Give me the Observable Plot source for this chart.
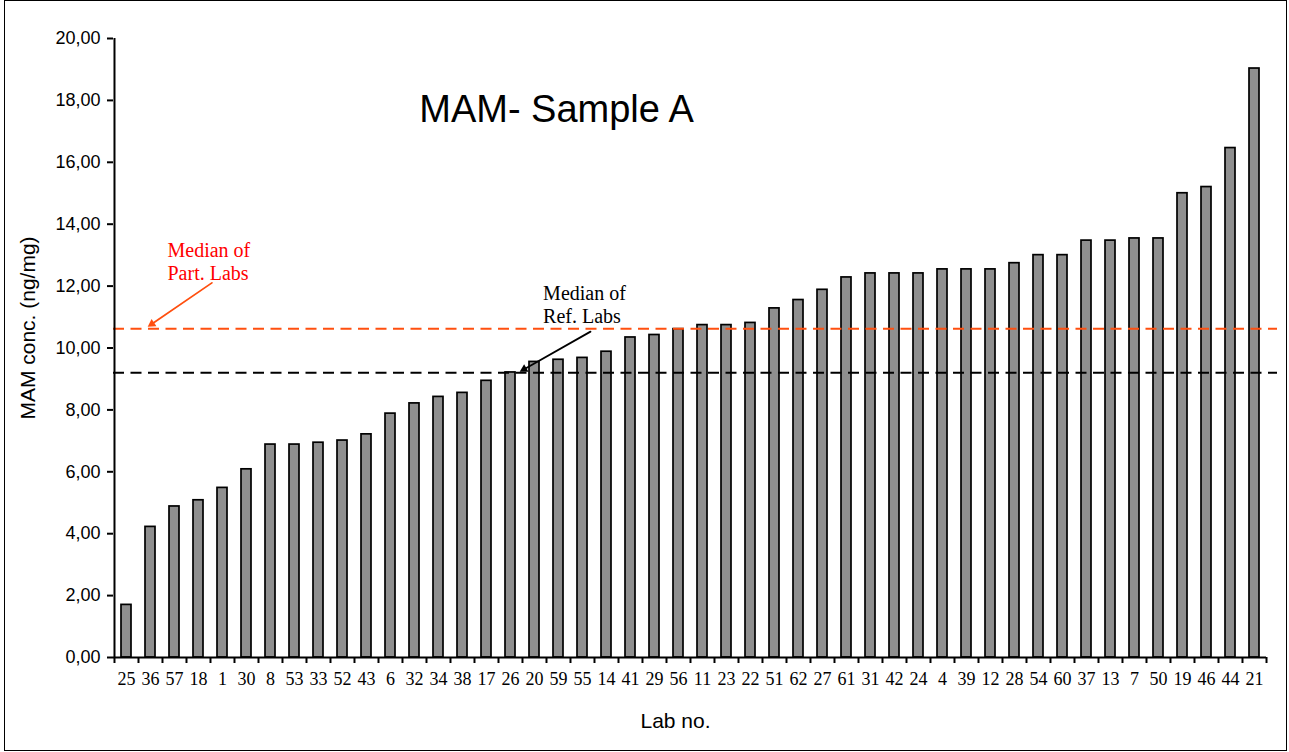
<!DOCTYPE html>
<html>
<head>
<meta charset="utf-8">
<script src="https://cdn.jsdelivr.net/npm/d3@7"></script>
<script src="https://cdn.jsdelivr.net/npm/@observablehq/plot@0.6"></script>
<style>
html, body { margin: 0; padding: 0; background: #fff; }
#wrap { position: relative; width: 1289px; height: 752px; overflow: hidden; }
#border { position: absolute; left: 4px; top: 0; width: 1283px; height: 751px; border: 1.5px solid #000; box-sizing: border-box; pointer-events: none; }
</style>
</head>
<body>
<div id="wrap"><div id="border"></div></div>
<script>
// Lab numbers (x categories, sorted by value as in the chart)
const labs = ["25","36","57","18","1","30","8","53","33","52","43","6","32","34","38","17","26","20","59","55","14","41","29","56","11","23","22","51","62","27","61","31","42","24","4","39","12","28","54","60","37","13","7","50","19","46","44","21"];
// MAM concentration (ng/mg) per lab
const values = [1.70,4.22,4.88,5.08,5.48,6.08,6.88,6.88,6.94,7.01,7.21,7.88,8.21,8.42,8.55,8.94,9.21,9.55,9.62,9.68,9.88,10.34,10.42,10.61,10.74,10.74,10.81,11.28,11.55,11.88,12.28,12.41,12.41,12.41,12.54,12.54,12.54,12.74,13.00,13.00,13.47,13.47,13.54,13.54,15.00,15.20,16.46,19.03];
// Reference lines
const medianPart = [10.62];
const medianRef = [9.20];
// Y tick values
const yTicks = [0, 2, 4, 6, 8, 10, 12, 14, 16, 18, 20];
// Texts
const titleText = ["MAM- Sample A"];
const yLabel = ["MAM conc. (ng/mg)"];
const xLabel = ["Lab no."];
const partNote = [{text: "Median of\nPart. Labs", lab: "57", y: 12.81}];
const refNote = [{text: "Median of\nRef. Labs", lab: "59", y: 11.42}];
const partArrow = [{from: "1", to: "36", y1: 12.25, y2: 10.66}];
const refArrow = [{from: "55", to: "26", y1: 10.53, y2: 9.21}];

const data = labs.map((lab, i) => ({lab, value: values[i]}));

const W = 1289, H = 752, mL = 113, mR = 23, mT = 38, mB = 95;
const bw = (W - mL - mR) / labs.length;
const sans = "'Liberation Sans', Arial, sans-serif";
const serif = "'Liberation Serif', 'Times New Roman', serif";
const fmt = d => d.toFixed(2).replace(".", ",");
const orange = "#ff4f0f";

const chart = Plot.plot({
  width: W, height: H,
  marginLeft: mL, marginRight: mR, marginTop: mT, marginBottom: mB,
  style: {background: "transparent", fontFamily: sans, color: "#000", overflow: "visible"},
  x: {domain: labs, padding: 0},
  y: {domain: [0, 20]},
  marks: [
    Plot.barY(data, {x: "lab", y: "value", fill: "#8f8f8f", stroke: "#000", strokeWidth: 1.7, insetLeft: 7, insetRight: 7}),
    Plot.ruleY(medianPart, {stroke: orange, strokeWidth: 2, strokeDasharray: "11,6.5", insetRight: -11}),
    Plot.ruleY(medianRef, {stroke: "#000", strokeWidth: 2, strokeDasharray: "11,6.5", insetRight: -11}),
    // axes
    Plot.ruleY([0], {stroke: "#000", strokeWidth: 2}),
    Plot.ruleX([labs[0]], {stroke: "#000", strokeWidth: 2, dx: -bw / 2}),
    Plot.axisY({ticks: yTicks, tickSize: 6, tickPadding: 7, tickFormat: fmt, fontSize: 18, fontFamily: sans, label: null, strokeWidth: 2, stroke: "#000", fill: "#000"}),
    Plot.axisX({ticks: labs, tickSize: 6, tickFormat: () => "", dx: -bw / 2, label: null, strokeWidth: 2, stroke: "#000"}),
    Plot.axisX({ticks: [labs[labs.length - 1]], tickSize: 6, tickFormat: () => "", dx: bw / 2, label: null, strokeWidth: 2, stroke: "#000"}),
    Plot.axisX({ticks: labs, tickSize: 0, tickPadding: 15, fontSize: 18, fontFamily: serif, label: null, fill: "#000"}),
    // titles
    Plot.text(titleText, {frameAnchor: "top", dx: -133.5, dy: 71, lineAnchor: "middle", fontSize: 38, fontFamily: sans, fill: "#000"}),
    Plot.text(yLabel, {frameAnchor: "left", rotate: -90, dx: -85, dy: -20, lineAnchor: "middle", textAnchor: "middle", fontSize: 21, fontFamily: sans, fill: "#000"}),
    Plot.text(xLabel, {frameAnchor: "bottom", dx: -14.5, dy: 64, lineAnchor: "middle", fontSize: 21, fontFamily: sans, fill: "#000"}),
    // annotations
    Plot.text(partNote, {x: "lab", y: "y", text: "text", dx: -7, textAnchor: "start", lineAnchor: "middle", lineHeight: 1.15, fontSize: 20, fontFamily: serif, fill: "#ff0000"}),
    Plot.text(refNote, {x: "lab", y: "y", text: "text", dx: -15.4, textAnchor: "start", lineAnchor: "middle", lineHeight: 1.15, fontSize: 20, fontFamily: serif, fill: "#000"}),
    Plot.arrow(partArrow, {x1: "from", y1: "y1", x2: "to", y2: "y2", dx: -4, stroke: orange, strokeWidth: 1.8, headLength: 0, insetStart: 8, insetEnd: 6}),
    Plot.arrow(refArrow, {x1: "from", y1: "y1", x2: "to", y2: "y2", dx: 8, stroke: "#000", strokeWidth: 1.8, headLength: 0, insetEnd: 6}),
    // filled arrowheads
    Plot.dot(partArrow, {x: "to", y: "y2", symbol: "triangle2", r: 4.2, fill: orange, stroke: "none", rotate: -123.5, dx: 1.4, dy: -3.6}),
    Plot.dot(refArrow, {x: "to", y: "y2", symbol: "triangle2", r: 4.2, fill: "#000", stroke: "none", rotate: -119.7, dx: 13.6, dy: -3.2})
  ]
});
document.getElementById("wrap").prepend(chart);
</script>
</body>
</html>
